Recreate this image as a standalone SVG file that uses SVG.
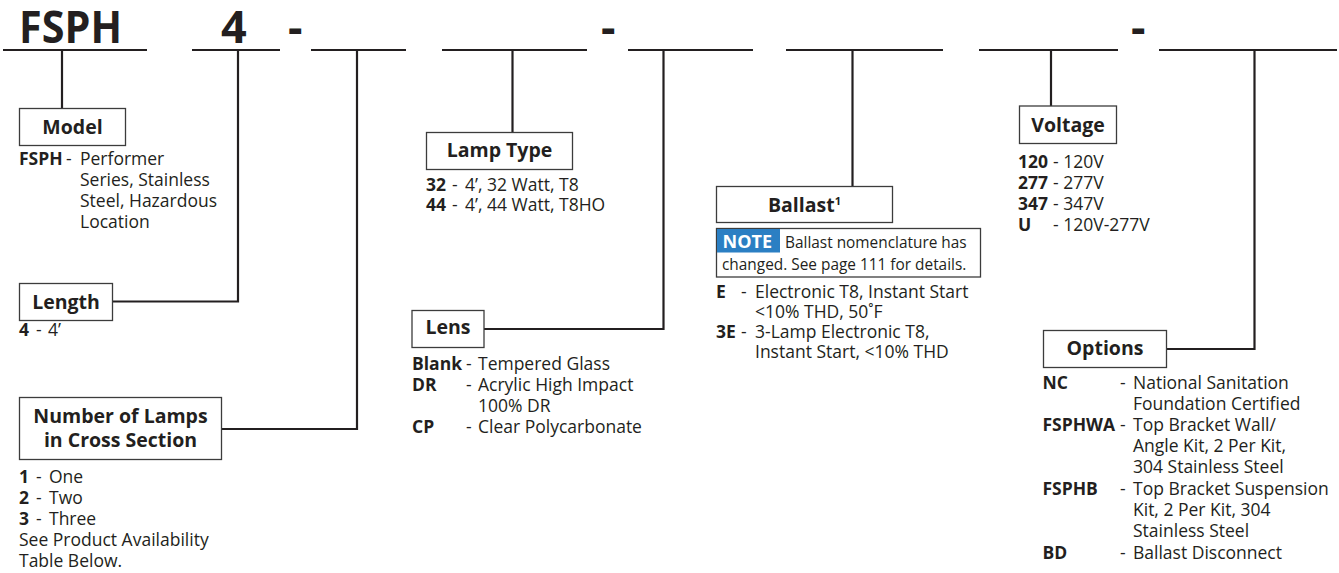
<svg xmlns="http://www.w3.org/2000/svg" width="1339" height="573" viewBox="0 0 1339 573">
<style>
text{font-family:"Open Sans","DejaVu Sans",sans-serif;fill:#231f20;font-size:17.5px}
.big{font-size:45px;font-weight:bold}
.t{font-size:19.5px;font-weight:bold;text-anchor:middle}
.b{font-weight:bold}
.n{font-size:15.4px}
.ln{stroke:#231f20;stroke-width:2.2;fill:none}
.bx{fill:#fff;stroke:#3c3c3c;stroke-width:1.3}
</style>
<rect width="1339" height="573" fill="#fff"/>
<g id="code">
<text class="big" x="19" y="43" textLength="103" lengthAdjust="spacingAndGlyphs">FSPH</text>
<text class="big" x="221" y="43">4</text>
<text class="big" x="288" y="43">-</text>
<text class="big" x="601" y="43">-</text>
<text class="big" x="1131" y="43">-</text>
</g>
<g id="connectors">
<path class="ln" d="M3 50H147M192 50H280M311 50H406M442 50H587M628 50H753M786 50H943M979 50H1118M1159 50H1337"/>
<path class="ln" d="M62 50V108"/>
<path class="ln" d="M238 50V301.5H112"/>
<path class="ln" d="M357 50V429H222"/>
<path class="ln" d="M512.5 50V132"/>
<path class="ln" d="M663.5 50V329H484"/>
<path class="ln" d="M852.5 50V186"/>
<path class="ln" d="M1051 50V106"/>
<path class="ln" d="M1254.5 50V349H1167"/>
</g>
<g id="model">
<rect class="bx" x="19.5" y="108.5" width="106" height="37"/>
<text class="t" x="72.5" y="134">Model</text>
<text y="165"><tspan class="b" x="19">FSPH</tspan><tspan x="66">-</tspan><tspan x="80">Performer</tspan></text>
<text x="80" y="186">Series, Stainless</text>
<text x="80" y="207">Steel, Hazardous</text>
<text x="80" y="228">Location</text>
</g>
<g id="length">
<rect class="bx" x="19.5" y="283.5" width="93" height="37"/>
<text class="t" x="66" y="309">Length</text>
<text y="336"><tspan class="b" x="19">4</tspan><tspan x="36">-</tspan><tspan x="48">4’</tspan></text>
</g>
<g id="lamps">
<rect class="bx" x="19.5" y="397.5" width="202" height="62"/>
<text class="t" x="120.5" y="423">Number of Lamps</text>
<text class="t" x="120.5" y="447">in Cross Section</text>
<text y="483"><tspan class="b" x="19">1</tspan><tspan x="36">-</tspan><tspan x="49">One</tspan></text>
<text y="504"><tspan class="b" x="19">2</tspan><tspan x="36">-</tspan><tspan x="49">Two</tspan></text>
<text y="525"><tspan class="b" x="19">3</tspan><tspan x="36">-</tspan><tspan x="49">Three</tspan></text>
<text x="19" y="546">See Product Availability</text>
<text x="19" y="567">Table Below.</text>
</g>
<g id="lamptype">
<rect class="bx" x="426.5" y="132.5" width="146" height="37"/>
<text class="t" x="499.5" y="157">Lamp Type</text>
<text y="191"><tspan class="b" x="426">32</tspan><tspan x="452">-</tspan><tspan x="465">4’, 32 Watt, T8</tspan></text>
<text y="211"><tspan class="b" x="426">44</tspan><tspan x="452">-</tspan><tspan x="465">4’, 44 Watt, T8HO</tspan></text>
</g>
<g id="lens">
<rect class="bx" x="412" y="310.5" width="72" height="37"/>
<text class="t" x="448" y="334">Lens</text>
<text y="370"><tspan class="b" x="412">Blank</tspan><tspan x="466">-</tspan><tspan x="478">Tempered Glass</tspan></text>
<text y="391"><tspan class="b" x="412">DR</tspan><tspan x="466">-</tspan><tspan x="478">Acrylic High Impact</tspan></text>
<text x="478" y="412">100% DR</text>
<text y="433"><tspan class="b" x="412">CP</tspan><tspan x="466">-</tspan><tspan x="478">Clear Polycarbonate</tspan></text>
</g>
<g id="ballast">
<rect class="bx" x="716.5" y="186.5" width="176" height="36"/>
<text class="t" x="804.5" y="212">Ballast<tspan font-size="11" dy="-7">1</tspan></text>
<rect class="bx" x="716.5" y="228.5" width="264" height="48.5"/>
<rect x="717" y="229" width="63" height="23.5" fill="#2b7fc3"/>
<text class="b" x="722.5" y="248" style="fill:#fff;font-size:18px">NOTE</text>
<text class="n" x="785" y="248">Ballast nomenclature has</text>
<text class="n" x="722" y="270">changed. See page 111 for details.</text>
<text y="298"><tspan class="b" x="716">E</tspan><tspan x="741">-</tspan><tspan x="755">Electronic T8, Instant Start</tspan></text>
<text x="755" y="318">&lt;10% THD, 50˚F</text>
<text y="338"><tspan class="b" x="716">3E</tspan><tspan x="741">-</tspan><tspan x="755">3-Lamp Electronic T8,</tspan></text>
<text x="755" y="358">Instant Start, &lt;10% THD</text>
</g>
<g id="voltage">
<rect class="bx" x="1019.5" y="106" width="97" height="37.5"/>
<text class="t" x="1068" y="131.5">Voltage</text>
<text y="168"><tspan class="b" x="1018">120</tspan><tspan x="1053">- 120V</tspan></text>
<text y="189"><tspan class="b" x="1018">277</tspan><tspan x="1053">- 277V</tspan></text>
<text y="210"><tspan class="b" x="1018">347</tspan><tspan x="1053">- 347V</tspan></text>
<text y="231"><tspan class="b" x="1018">U</tspan><tspan x="1053">- 120V-277V</tspan></text>
</g>
<g id="options">
<rect class="bx" x="1043.5" y="330.5" width="123" height="37"/>
<text class="t" x="1105" y="355">Options</text>
<text y="389"><tspan class="b" x="1042.5">NC</tspan><tspan x="1120">-</tspan><tspan x="1133">National Sanitation</tspan></text>
<text x="1133" y="410">Foundation Certified</text>
<text y="431"><tspan class="b" x="1042.5">FSPHWA</tspan><tspan x="1120">-</tspan><tspan x="1133">Top Bracket Wall/</tspan></text>
<text x="1133" y="452">Angle Kit, 2 Per Kit,</text>
<text x="1133" y="473">304 Stainless Steel</text>
<text y="495"><tspan class="b" x="1042.5">FSPHB</tspan><tspan x="1120">-</tspan><tspan x="1133">Top Bracket  Suspension</tspan></text>
<text x="1133" y="516">Kit, 2 Per Kit, 304</text>
<text x="1133" y="537">Stainless Steel</text>
<text y="559"><tspan class="b" x="1042.5">BD</tspan><tspan x="1120">-</tspan><tspan x="1133">Ballast Disconnect</tspan></text>
</g>
</svg>
